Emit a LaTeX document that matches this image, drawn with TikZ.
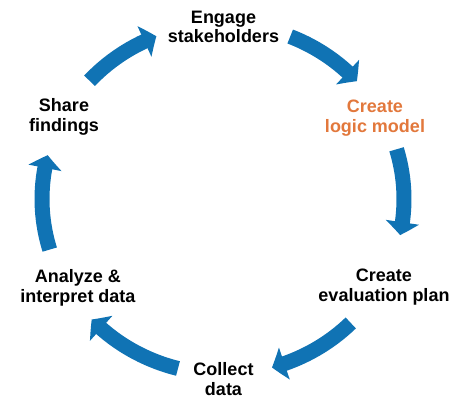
\documentclass[tikz,border=0pt]{standalone}
\usepackage{fontspec}
\setmainfont{Liberation Sans}
\usetikzlibrary{arrows.meta,bending,calc}
\definecolor{cycleblue}{RGB}{16,115,180}
\definecolor{logicorange}{RGB}{226,120,60}
\begin{document}
\begin{tikzpicture}[x=1pt,y=1pt,
  lbl/.style={font=\fontsize{18}{19.5}\selectfont\bfseries, align=center, anchor=base, inner sep=0pt},
  cyc/.style={draw=cycleblue, line width=15pt, -{Triangle[width=33pt,length=13pt,bend]}}]
\useasboundingbox (0,0) rectangle (456,400);
\coordinate (c) at (223,201);
% labels (anchored at the baseline of the last line)
\node[lbl] (engage) at (223.5,357) {Engage\\stakeholders};
\node[lbl, text=logicorange] (logic) at (375,268) {Create\\logic model};
\node[lbl] (plan) at (384,99) {Create\\evaluation plan};
\node[lbl] (collect) at (223.5,5) {Collect\\data};
\node[lbl] (analyze) at (78,98) {Analyze \&\\interpret data};
\node[lbl] (share) at (64,269) {Share\\findings};
% cycle arrows
\foreach \a/\b [count=\i] in {137.5/111.6, 68.2/42.3, 16.5/-11.9, -45.1/-74.3, -104.4/-136.5, 196.8/165.5}{
  \coordinate (s\i) at ($(c)+({181*cos(\a)},{175*sin(\a)})$);
  \draw[cyc] (s\i) arc[start angle=\a, end angle=\b, x radius=181, y radius=175];
}
\end{tikzpicture}
\end{document}
